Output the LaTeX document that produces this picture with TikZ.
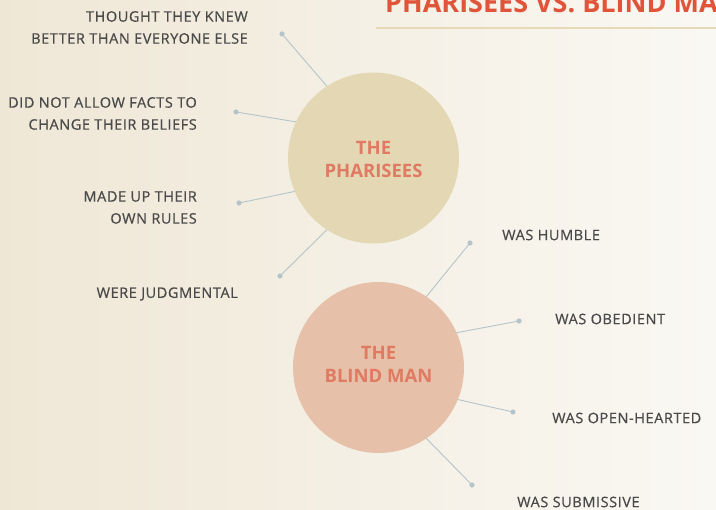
\documentclass[tikz,border=0pt]{standalone}
\usepackage{fontspec}
\setmainfont{Open Sans}
\begin{document}
\begin{tikzpicture}[x=1pt,y=-1pt,
  lbl/.style={font=\fontsize{14.5}{22}\selectfont\addfontfeature{FakeBold=0.6,LetterSpace=4}, text=labelgray, inner sep=0pt},
  bigc/.style={circle, minimum size=171pt, inner sep=0pt, outer sep=0pt},
  ctext/.style={align=center, inner sep=0pt, text=titlesalmon, font=\bfseries\fontsize{18.5}{23}\selectfont},
  conn/.style={draw=conncol, line width=0.9pt},
  dotc/.style={fill=conncol, draw=none}
]
\definecolor{labelgray}{HTML}{4A4A4A}
\definecolor{titlesalmon}{HTML}{E07A62}
\definecolor{titlered}{HTML}{E0553A}
\definecolor{conncol}{HTML}{B5C4CA}
\definecolor{bgleft}{HTML}{EFE7D6}
\definecolor{bgright}{HTML}{FAF8F3}
\definecolor{pharfill}{HTML}{E3D7B4}
\definecolor{blindfill}{HTML}{E6C0A8}
\definecolor{rulecol}{HTML}{E5D9B8}
\useasboundingbox (0,0) rectangle (716,510);
\clip (0,0) rectangle (716,510);
\shade[left color=bgleft, right color=bgright] (0,0) rectangle (716,510);
% title
\node[anchor=base west, inner sep=0pt, text=titlered, font=\bfseries\fontsize{27}{30}\selectfont] (title) at (385,13) {PHARISEES VS. BLIND MAN};
\draw[rulecol, line width=2.2pt] (376,28) -- (720,28);
% dots
\coordinate (d1) at (282,34);
\coordinate (d2) at (236,112);
\coordinate (d3) at (239,203);
\coordinate (d4) at (280,276);
\coordinate (d5) at (470,243);
\coordinate (d6) at (519,321);
\coordinate (d7) at (513,412);
\coordinate (d8) at (472,485);
% circles
\node[bigc, fill=pharfill] (ph) at (373.5,158) {};
\node[bigc, fill=blindfill] (bm) at (378.5,367.5) {};
\node[ctext] (pht) at (373.5,159.5) {THE\\PHARISEES};
\node[ctext] (bmt) at (378.5,364.5) {THE\\BLIND MAN};
% connectors
\draw[conn] (d1) -- (ph.123.6);
\draw[conn] (d2) -- (ph.155.4);
\draw[conn] (d3) -- (ph.203.1);
\draw[conn] (d4) -- (ph.237);
\draw[conn] (d5) -- (bm.56.6);
\draw[conn] (d6) -- (bm.24.3);
\draw[conn] (d7) -- (bm.-22.8);
\draw[conn] (d8) -- (bm.-56.4);
\foreach \d in {d1,d2,d3,d4,d5,d6,d7,d8} \fill[dotc] (\d) circle (2.6pt);
% labels
\node[lbl, anchor=east, align=right] (l1) at (248,27.5) {THOUGHT THEY KNEW\\BETTER THAN EVERYONE ELSE};
\node[lbl, anchor=east, align=right] (l2) at (197,113.5) {DID NOT ALLOW FACTS TO\\CHANGE THEIR BELIEFS};
\node[lbl, anchor=east, align=right] (l3) at (197,207.5) {MADE UP THEIR\\OWN RULES};
\node[lbl, anchor=east] (l4) at (238,294) {WERE JUDGMENTAL};
\node[lbl, anchor=west] (l5) at (502,235) {WAS HUMBLE};
\node[lbl, anchor=west] (l6) at (555,319) {WAS OBEDIENT};
\node[lbl, anchor=west] (l7) at (552,418) {WAS OPEN-HEARTED};
\node[lbl, anchor=west] (l8) at (517,502) {WAS SUBMISSIVE};
\end{tikzpicture}
\end{document}
